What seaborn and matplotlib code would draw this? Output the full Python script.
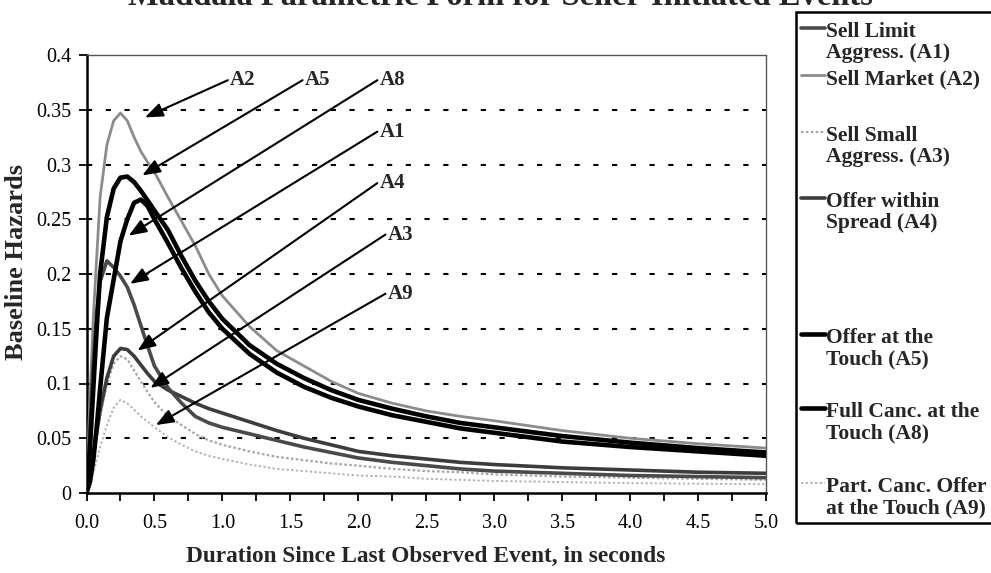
import numpy as np
import pandas as pd
import matplotlib
matplotlib.use("Agg")
import matplotlib.pyplot as plt
from matplotlib.lines import Line2D
from matplotlib.patches import Rectangle
from matplotlib.ticker import FuncFormatter, MultipleLocator
import seaborn as sns

# Duration grid (seconds)
duration = [0.0, 0.025, 0.05, 0.075, 0.1, 0.15, 0.2, 0.25, 0.3, 0.35, 0.4, 0.45,
            0.5, 0.6, 0.7, 0.8, 0.9, 1.0, 1.2, 1.4, 1.6, 1.8, 2.0, 2.25, 2.5,
            2.75, 3.0, 3.5, 4.0, 4.5, 5.0]

# Baseline hazards by event type
a1_sell_limit_aggr = [0.0, 0.060, 0.120, 0.165, 0.193, 0.212, 0.206, 0.198, 0.188, 0.172, 0.153, 0.134,
                      0.116, 0.096, 0.082, 0.070, 0.064, 0.060, 0.054, 0.048, 0.042, 0.037, 0.032, 0.028, 0.025,
                      0.022, 0.020, 0.018, 0.016, 0.015, 0.014]
a2_sell_market = [0.0, 0.085, 0.160, 0.215, 0.270, 0.318, 0.340, 0.347, 0.340, 0.325, 0.312, 0.302,
                  0.293, 0.270, 0.248, 0.226, 0.200, 0.180, 0.152, 0.130, 0.116, 0.102, 0.091, 0.082, 0.075,
                  0.070, 0.066, 0.057, 0.050, 0.045, 0.041]
a3_sell_small_aggr = [0.0, 0.012, 0.030, 0.050, 0.070, 0.100, 0.118, 0.125, 0.122, 0.112, 0.102, 0.092,
                      0.083, 0.070, 0.062, 0.054, 0.048, 0.044, 0.038, 0.033, 0.030, 0.027, 0.025, 0.022, 0.020,
                      0.019, 0.017, 0.015, 0.014, 0.013, 0.012]
a4_offer_within = [0.0, 0.015, 0.035, 0.055, 0.075, 0.105, 0.125, 0.132, 0.131, 0.125, 0.117, 0.109,
                   0.102, 0.094, 0.088, 0.082, 0.077, 0.073, 0.065, 0.057, 0.050, 0.044, 0.038, 0.034, 0.031,
                   0.028, 0.026, 0.023, 0.021, 0.019, 0.018]
a5_offer_touch = [0.0, 0.040, 0.095, 0.150, 0.200, 0.252, 0.278, 0.288, 0.289, 0.284, 0.276, 0.267,
                  0.258, 0.240, 0.216, 0.194, 0.175, 0.159, 0.135, 0.118, 0.105, 0.094, 0.085, 0.077, 0.070,
                  0.064, 0.060, 0.052, 0.046, 0.041, 0.037]
a8_full_canc = [0.0, 0.010, 0.030, 0.060, 0.095, 0.160, 0.195, 0.230, 0.250, 0.265, 0.268, 0.262,
                0.250, 0.228, 0.205, 0.184, 0.165, 0.150, 0.127, 0.110, 0.097, 0.087, 0.079, 0.071, 0.065,
                0.059, 0.055, 0.047, 0.042, 0.038, 0.034]
a9_part_canc = [0.0, 0.008, 0.018, 0.030, 0.042, 0.062, 0.078, 0.085, 0.082, 0.076, 0.070, 0.065,
                0.060, 0.051, 0.044, 0.038, 0.034, 0.031, 0.026, 0.022, 0.020, 0.018, 0.016, 0.015, 0.013,
                0.012, 0.011, 0.010, 0.009, 0.0085, 0.008]

series_codes = ["A1", "A2", "A3", "A4", "A5", "A8", "A9"]
series_names = ["Sell Limit\nAggress. (A1)", "Sell Market (A2)", "Sell Small\nAggress. (A3)",
                "Offer within\nSpread (A4)", "Offer at the\nTouch (A5)",
                "Full Canc. at the\nTouch (A8)", "Part. Canc. Offer\nat the Touch (A9)"]
series_values = [a1_sell_limit_aggr, a2_sell_market, a3_sell_small_aggr, a4_offer_within,
                 a5_offer_touch, a8_full_canc, a9_part_canc]

y_ticks = [0, 0.05, 0.1, 0.15, 0.2, 0.25, 0.3, 0.35, 0.4]
x_tick_labels = ["0.0", "0.5", "1.0", "1.5", "2.0", "2.5", "3.0", "3.5", "4.0", "4.5", "5.0"]

# Callout labels: (code, text anchor x, text anchor y, arrow tip x, arrow tip y)
callouts = [("A2", 1.04, 0.377, 0.43, 0.343),
            ("A5", 1.59, 0.377, 0.41, 0.290),
            ("A8", 2.14, 0.377, 0.31, 0.235),
            ("A1", 2.14, 0.330, 0.32, 0.191),
            ("A4", 2.14, 0.283, 0.375, 0.130),
            ("A3", 2.20, 0.236, 0.47, 0.096),
            ("A9", 2.20, 0.182, 0.51, 0.062)]

styles = {
    "A1": dict(color="#4a4a4a", lw=2.6, ls="-"),
    "A2": dict(color="#8c8c8c", lw=2.0, ls="-"),
    "A3": dict(color="#a8a8a8", lw=1.6, ls=(0, (1.2, 1.0))),
    "A4": dict(color="#3c3c3c", lw=2.6, ls="-"),
    "A5": dict(color="#000000", lw=3.3, ls="-"),
    "A8": dict(color="#000000", lw=3.3, ls="-"),
    "A9": dict(color="#b4b4b4", lw=1.4, ls=(0, (1.2, 1.2))),
}

sns.set_theme(style="white")
plt.rcParams["font.family"] = ["Liberation Serif", "DejaVu Serif"]

W, H = 991, 573
fig = plt.figure(figsize=(W / 100, H / 100), dpi=100)
fig.patch.set_facecolor("white")
ax = fig.add_axes([86.5 / W, 1 - 493 / H, (766 - 86.5) / W, (493 - 55) / H])
ax.set_facecolor("white")

# Draw order: lighter curves beneath heavier ones
for code in ["A9", "A3", "A2", "A4", "A1", "A8", "A5"]:
    i = series_codes.index(code)
    df = pd.DataFrame({"t": duration, "h": series_values[i]})
    st = styles[code]
    sns.lineplot(data=df, x="t", y="h", ax=ax, color=st["color"], lw=st["lw"],
                 linestyle=st["ls"], zorder=3)

ax.set_xlim(0, 5.0)
ax.set_ylim(0, 0.4)

# Horizontal dashed gridlines
for yv in y_ticks[1:-1]:
    ax.axhline(yv, color="black", lw=1.5, ls=(0, (2.5, 6.5)), zorder=1)

ax.set_yticks(y_ticks)
ax.yaxis.set_major_formatter(FuncFormatter(lambda v, p: f"{v:g}"))
ax.set_xticks(np.arange(0, 5.01, 0.5))
ax.set_xticklabels(x_tick_labels)
ax.xaxis.set_minor_locator(MultipleLocator(0.25))
ax.tick_params(axis="both", which="both", direction="out", length=6, width=1.3,
               color="black", labelsize=14.5, labelcolor="black")
ax.tick_params(axis="x", which="both", bottom=True, pad=9)
ax.tick_params(axis="y", left=True, pad=5)

for side in ["left", "bottom"]:
    ax.spines[side].set_color("black")
    ax.spines[side].set_linewidth(1.8)
for side in ["top", "right"]:
    ax.spines[side].set_color("#555555")
    ax.spines[side].set_linewidth(1.0)
    ax.spines[side].set_linestyle((0, (1, 1)))

ax.set_xlabel("Duration Since Last Observed Event, in seconds", fontsize=16.8,
              fontweight="bold")
ax.set_ylabel("Baseline Hazards", fontsize=19, fontweight="bold")
ax.xaxis.set_label_coords((426 - 86.5) / (766 - 86.5), -(546 - 493) / (493 - 55))
ax.yaxis.set_label_coords(-(86.5 - 28) / (766 - 86.5), (493 - 262) / (493 - 55))

# Callout arrows and labels
for code, tx, ty, px, py in callouts:
    ax.annotate("", xy=(px, py), xytext=(tx, ty), annotation_clip=False,
                arrowprops=dict(arrowstyle="-|>,head_length=0.9,head_width=0.35",
                                mutation_scale=12, lw=1.5, color="black",
                                shrinkA=0, shrinkB=0), zorder=5)
    ax.text(tx + 0.015, ty, code, ha="left", va="center", fontsize=15,
            fontweight="bold", clip_on=False, zorder=5)

fig.text(500 / W, 1 - 5 / H, "Maddala Parametric Form for Seller-Initiated Events",
         ha="center", va="baseline", fontsize=23.5, fontweight="bold")

# Legend box drawn in figure pixels
def fx(px):
    return px / W

def fy(py):
    return 1 - py / H

fig.add_artist(Rectangle((fx(796), fy(523)), fx(1010) - fx(796), fy(12) - fy(523),
                         transform=fig.transFigure, fill=False, ec="black", lw=1.8,
                         clip_on=False))
legend_rows = [("A1", 32), ("A2", 79), ("A3", 136), ("A4", 202),
               ("A5", 338), ("A8", 412), ("A9", 487)]
for code, y0 in legend_rows:
    i = series_codes.index(code)
    st = styles[code]
    fig.add_artist(Line2D([fx(801), fx(825)], [fy(y0 - 4), fy(y0 - 4)],
                          transform=fig.transFigure, color=st["color"], lw=st["lw"],
                          ls=st["ls"]))
    for k, line in enumerate(series_names[i].split("\n")):
        fig.text(fx(826), fy(y0 + 21 * k), line, ha="left", va="center",
                 fontsize=15.5, fontweight="bold")

fig.savefig("out.png", dpi=100)
